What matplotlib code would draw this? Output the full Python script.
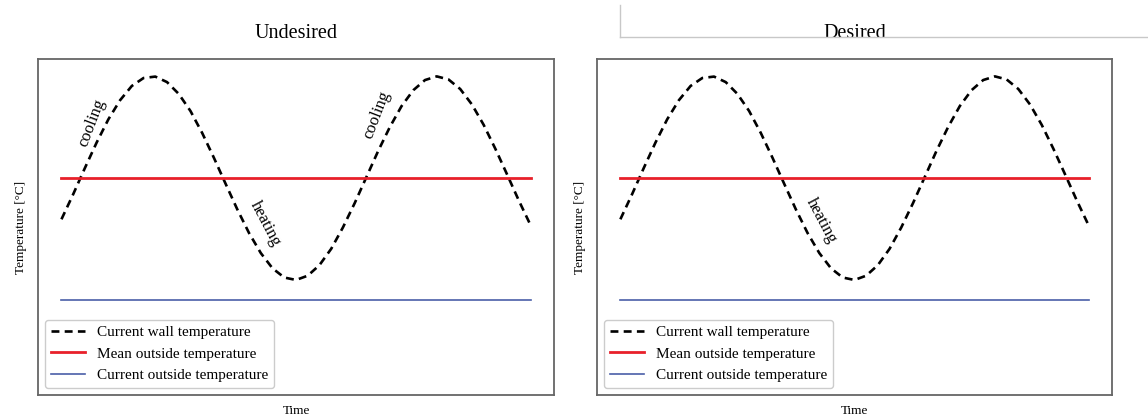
import matplotlib
matplotlib.use("Agg")
import matplotlib.pyplot as plt
from matplotlib.lines import Line2D

plt.rcParams['font.family'] = ['Liberation Serif', 'DejaVu Serif']

# time axis (hours) and the wall temperature
time_h = [0, 1, 2, 3, 4, 5, 6, 7, 8, 9, 10, 11, 12, 13, 14, 15, 16, 17, 18, 19, 20,
          21, 22, 23, 24, 25, 26, 27, 28, 29, 30, 31, 32, 33, 34, 35, 36, 37, 38, 39, 40]
wall_temp = [17.98, 19.21, 20.50, 21.75, 22.89, 23.83, 24.53, 24.92, 24.99, 24.72,
             24.14, 23.30, 22.22, 21.00, 19.72, 18.46, 17.30, 16.32, 15.57, 15.12,
             15.00, 15.21, 15.73, 16.53, 17.58, 18.77, 20.05, 21.33, 22.51, 23.54,
             24.32, 24.82, 25.00, 24.85, 24.38, 23.62, 22.62, 21.44, 20.18, 18.90, 17.69]
mean_outside = 20.0
current_outside = 14.0

titles = ['Undesired', 'Desired']
series_labels = ['Current wall temperature', 'Mean outside temperature',
                 'Current outside temperature']

# annotations: (text, time, temperature, rotation) per panel
notes = [
    [('cooling', 2.6, 22.7, 69), ('heating', 17.4, 17.75, -62), ('cooling', 26.9, 23.1, 69)],
    [('heating', 17.2, 17.9, -62)],
]

fig = plt.figure(figsize=(11.48, 4.19), dpi=100)
ax_boxes = [[0.0331, 0.0573, 0.4495, 0.8017], [0.5200, 0.0573, 0.4486, 0.8017]]

for i, box in enumerate(ax_boxes):
    ax = fig.add_axes(box)
    ax.plot(time_h, wall_temp, color='black', linestyle='--', dashes=(3, 2),
            linewidth=1.9, label=series_labels[0])
    ax.plot([time_h[0], time_h[-1]], [mean_outside, mean_outside], color='#e8202a',
            linewidth=2.0, label=series_labels[1])
    ax.plot([time_h[0], time_h[-1]], [current_outside, current_outside], color='#4a5fa8',
            linewidth=1.2, label=series_labels[2])
    for txt, tx, ty, rot in notes[i]:
        ax.text(tx, ty, txt, rotation=rot, fontsize=12, ha='center', va='center',
                rotation_mode='anchor')
    ax.set_ylim(9.35, 25.85)
    ax.set_xticks([])
    ax.set_yticks([])
    for s in ax.spines.values():
        s.set_color('#666666')
        s.set_linewidth(1.3)
    ax.set_title(titles[i], fontsize=14.5, pad=15)
    ax.set_xlabel('Time', fontsize=9.5, labelpad=7)
    ax.set_ylabel('Temperature [°C]', fontsize=9.5, labelpad=8)
    leg = ax.legend(loc='lower left', fontsize=11, handlelength=2.2,
                    framealpha=1, fancybox=True, borderaxespad=0.45)
    leg.get_frame().set_edgecolor('#cccccc')

# light frame line at top right
fig.add_artist(Line2D([0.540, 0.540], [0.988, 0.9117], color='#c8c8c8', linewidth=1.0))
fig.add_artist(Line2D([0.540, 1.0], [0.9117, 0.9117], color='#c8c8c8', linewidth=1.0))

fig.savefig('out.png', dpi=100)
